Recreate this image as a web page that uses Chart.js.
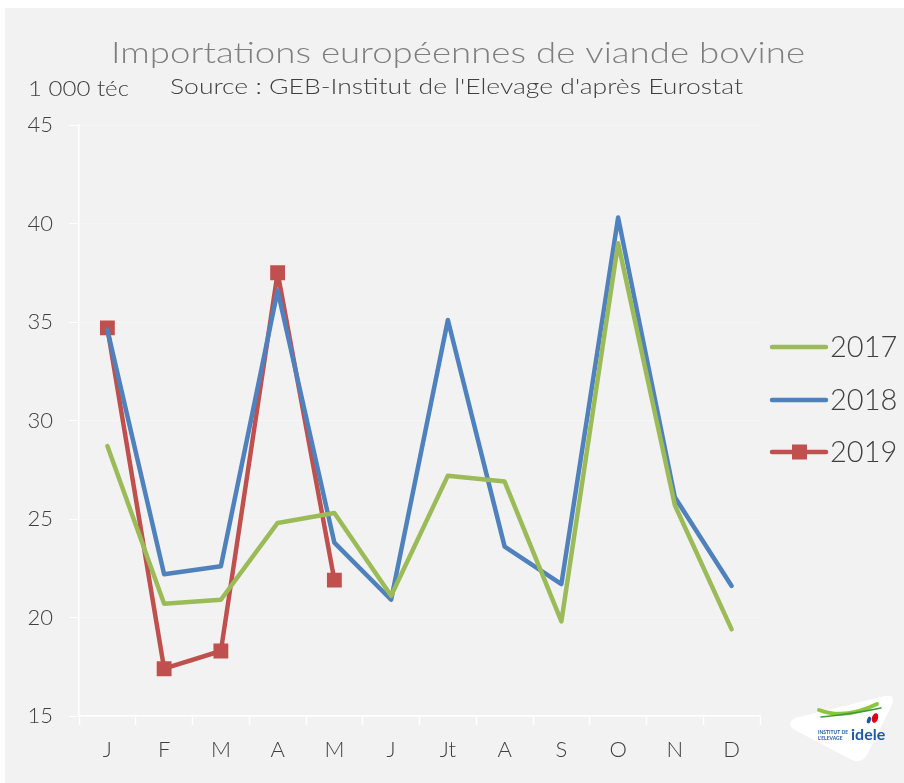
<!DOCTYPE html>
<html>
<head>
<meta charset="utf-8">
<script src="https://cdn.jsdelivr.net/npm/chart.js@4/dist/chart.umd.min.js"></script>
<style>
  body { margin: 0; background: #fff; }
  #cadre { position: absolute; left: 5px; top: 8px; width: 899px; height: 775px; background: #f2f2f2; }
</style>
</head>
<body>
<div id="cadre"><canvas id="myChart" width="899" height="775"></canvas></div>
<script>
// importations mensuelles, 1 000 téc
const mois = ['J', 'F', 'M', 'A', 'M', 'J', 'Jt', 'A', 'S', 'O', 'N', 'D'];
const imp2017 = [28.7, 20.7, 20.9, 24.8, 25.3, 21.1, 27.2, 26.9, 19.8, 39.0, 25.7, 19.4];
const imp2018 = [34.6, 22.2, 22.6, 36.6, 23.8, 20.9, 35.1, 23.6, 21.7, 40.3, 26.1, 21.6];
const imp2019 = [34.7, 17.4, 18.3, 37.5, 21.9];
const annees = ['2017', '2018', '2019'];
const couleurs = ['#9bbb59', '#4f81bd', '#c0504d'];

const police = "'Lato', 'DejaVu Sans', sans-serif";
const gris = '#404040';

// texte étiré horizontalement pour occuper une largeur donnée (police large)
function texteLarge(ctx, txt, x, y, largeur) {
  const w = ctx.measureText(txt).width;
  ctx.save();
  ctx.translate(x, y);
  ctx.scale(largeur / w, 1);
  ctx.fillText(txt, 0, 0);
  ctx.restore();
}

// titre, unité, source, légende et logo dessinés autour de la zone du graphique
const habillage = {
  id: 'habillage',
  afterDraw(chart) {
    const ctx = chart.ctx;
    const a = chart.chartArea;
    ctx.save();
    ctx.textBaseline = 'alphabetic';
    ctx.textAlign = 'left';

    ctx.fillStyle = '#7f7f7f';
    ctx.font = '300 30px ' + police;
    texteLarge(ctx, 'Importations européennes de viande bovine', 106, 55, 694);

    ctx.fillStyle = gris;
    ctx.font = '300 21px ' + police;
    texteLarge(ctx, '1 000 téc', 23, 88, 101);
    texteLarge(ctx, "Source : GEB-Institut de l'Elevage d'après Eurostat", 165, 86, 573);

    // légende
    const ys = [a.top + 222, a.top + 275, a.top + 327];
    chart.data.datasets.forEach((ds, i) => {
      const x0 = a.right + 12;
      ctx.strokeStyle = ds.borderColor;
      ctx.lineWidth = 4.5;
      ctx.lineCap = 'round';
      ctx.beginPath();
      ctx.moveTo(x0, ys[i]);
      ctx.lineTo(x0 + 54, ys[i]);
      ctx.stroke();
      if (ds.pointRadius > 0) {
        ctx.fillStyle = ds.borderColor;
        ctx.fillRect(x0 + 20, ys[i] - 7.5, 15, 15);
      }
      ctx.fillStyle = gris;
      ctx.font = '300 29px ' + police;
      ctx.textBaseline = 'middle';
      ctx.fillText(ds.label, x0 + 58, ys[i] + 1);
    });

    // logo idele
    ctx.fillStyle = '#ffffff';
    ctx.beginPath();
    ctx.moveTo(790, 710);
    ctx.quadraticCurveTo(780, 716, 790, 722);
    ctx.lineTo(845, 751);
    ctx.quadraticCurveTo(856, 757, 862, 747);
    ctx.lineTo(887, 697);
    ctx.quadraticCurveTo(891, 686, 880, 688);
    ctx.closePath();
    ctx.fill();

    ctx.strokeStyle = '#8cc63f';
    ctx.lineWidth = 4;
    ctx.beginPath();
    ctx.moveTo(814, 702);
    ctx.quadraticCurveTo(840, 712, 872, 696);
    ctx.stroke();
    ctx.strokeStyle = '#3a9a3a';
    ctx.lineWidth = 1.5;
    ctx.beginPath();
    ctx.moveTo(816, 709);
    ctx.quadraticCurveTo(848, 706, 876, 700);
    ctx.stroke();
    ctx.fillStyle = '#e2001a';
    ctx.beginPath();
    ctx.ellipse(870, 710, 3, 5, 0.3, 0, Math.PI * 2);
    ctx.fill();
    ctx.fillStyle = '#1f5aa6';
    ctx.beginPath();
    ctx.ellipse(864, 712, 2, 3.5, 0.3, 0, Math.PI * 2);
    ctx.fill();

    ctx.fillStyle = '#1f5aa6';
    ctx.font = 'bold 16px ' + police;
    ctx.textBaseline = 'alphabetic';
    ctx.fillText('idele', 846, 732);
    ctx.font = 'bold 5px ' + police;
    ctx.fillText('INSTITUT DE', 813, 726);
    ctx.fillText("L'ELEVAGE", 813, 732);

    ctx.restore();
  }
};

new Chart('myChart', {
  type: 'line',
  data: {
    labels: mois,
    datasets: [
      { label: annees[0], data: imp2017, borderColor: couleurs[0], backgroundColor: couleurs[0], pointRadius: 0 },
      { label: annees[1], data: imp2018, borderColor: couleurs[1], backgroundColor: couleurs[1], pointRadius: 0 },
      { label: annees[2], data: imp2019, borderColor: couleurs[2], backgroundColor: couleurs[2],
        pointRadius: 10.5, pointStyle: 'rect', pointBorderWidth: 0 }
    ]
  },
  options: {
    responsive: false,
    animation: false,
    datasets: { line: { borderWidth: 4.5, fill: false, tension: 0, borderJoinStyle: 'round', borderCapStyle: 'round' } },
    layout: { padding: { left: 0, top: 117, right: 144, bottom: 0 } },
    plugins: {
      legend: { display: false },
      title: { display: false },
      tooltip: { enabled: false }
    },
    scales: {
      x: {
        offset: true,
        afterFit: (s) => { s.height = 67; },
        grid: { offset: true, drawOnChartArea: false, drawTicks: true, tickLength: 9, tickColor: '#ffffff', tickWidth: 1.5 },
        border: { color: '#ffffff', width: 1.5 },
        ticks: { color: gris, padding: 12, font: { family: police, size: 22, weight: 300 } }
      },
      y: {
        min: 15,
        max: 45,
        afterFit: (s) => { s.width = 74; },
        grid: { color: 'rgba(255,255,255,0.3)', tickColor: '#ffffff', tickLength: 10, lineWidth: 1 },
        border: { color: '#ffffff', width: 1.5 },
        ticks: { stepSize: 5, color: gris, padding: 16, font: { family: police, size: 22, weight: 300 } }
      }
    }
  },
  plugins: [habillage]
});
</script>
</body>
</html>
